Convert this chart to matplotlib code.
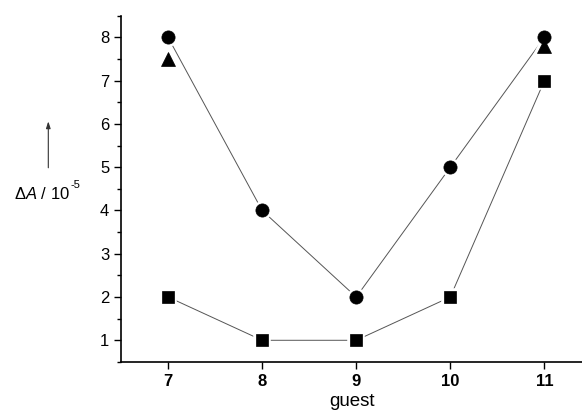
import matplotlib
matplotlib.use('Agg')
import matplotlib.pyplot as plt
from matplotlib.patches import FancyArrowPatch
from matplotlib.ticker import MultipleLocator

plt.rcParams['font.family'] = ['Liberation Sans', 'DejaVu Sans']
plt.rcParams['mathtext.fontset'] = 'custom'
plt.rcParams['mathtext.rm'] = 'Liberation Sans'
plt.rcParams['mathtext.it'] = 'Liberation Sans:italic'

# data
guest = [7, 8, 9, 10, 11]
circles = [8, 4, 2, 5, 8]
squares = [2, 1, 1, 2, 7]
tri_x = [7, 11]
triangles = [7.5, 7.8]

fig = plt.figure(figsize=(5.82, 4.16), dpi=100)
ax = fig.add_axes([0.208, 0.130, 0.792, 0.832])

line_kw = dict(color='#555555', lw=0.7, zorder=1)

ax.plot(guest, circles, **line_kw)
ax.plot(guest, squares, **line_kw)

series = [(guest, circles, 'o', 9.5), (guest, squares, 's', 8.5), (tri_x, triangles, '^', 10)]
# white halo first so the connecting lines stop short of the markers
for xs, ys, m, s in series:
    ax.plot(xs, ys, marker=m, ms=s, color='white', mec='white', mew=4, ls='none', zorder=2)
for xs, ys, m, s in series:
    ax.plot(xs, ys, marker=m, ms=s, color='black', mec='black', mew=0.5, ls='none', zorder=3)

ax.set_xlim(6.5, 11.4)
ax.set_ylim(0.5, 8.5)
ax.set_xticks(guest)
ax.set_xticklabels([str(g) for g in guest], fontweight='bold')
ax.yaxis.set_major_locator(MultipleLocator(1))
ax.yaxis.set_minor_locator(MultipleLocator(0.5))
ax.tick_params(axis='both', which='major', direction='out', length=5, width=1, labelsize=12)
ax.tick_params(axis='y', which='minor', direction='out', length=3, width=1)
ax.spines['top'].set_visible(False)
ax.spines['right'].set_visible(False)
for s in ('left', 'bottom'):
    ax.spines[s].set_linewidth(1.2)

ax.set_xlabel('guest', fontsize=13.5, labelpad=3)

fig.text(0.024, 0.533, r'$\mathit{\Delta A}$ / 10', fontsize=12, va='center', ha='left')
fig.text(0.121, 0.556, '-5', fontsize=8, va='center', ha='left')
fig.patches.append(FancyArrowPatch(
    (0.083, 0.59), (0.083, 0.715), transform=fig.transFigure,
    arrowstyle='-|>,head_length=4,head_width=1.3', color='#333333', lw=0.8))

fig.savefig('out.png', dpi=100)
